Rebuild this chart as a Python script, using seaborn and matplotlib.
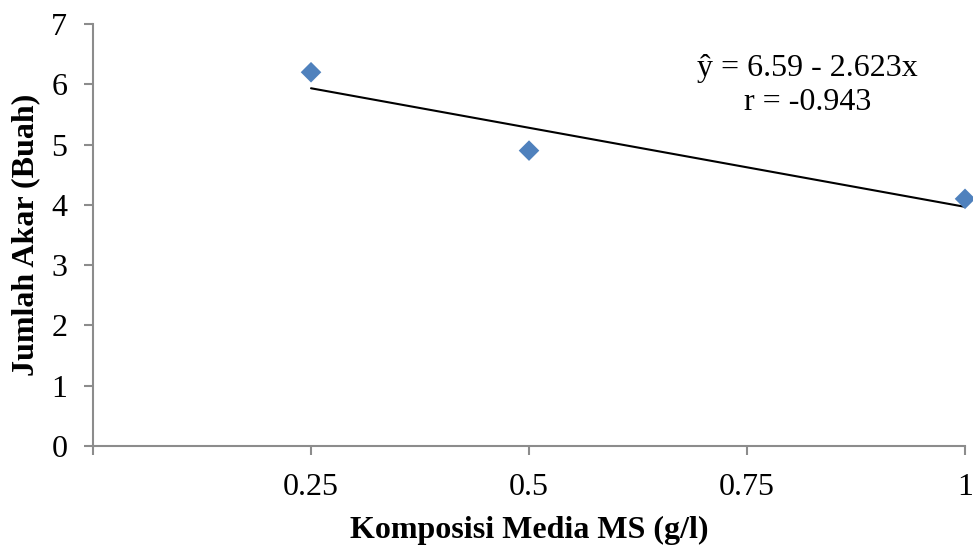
import matplotlib
matplotlib.use("Agg")
import matplotlib.pyplot as plt
import seaborn as sns
import pandas as pd
import numpy as np

# Data
komposisi = [0.25, 0.5, 1.0]
jumlah_akar = [6.2, 4.9, 4.1]
intercept = 6.59
slope = -2.623
r_value = -0.943
x_ticks = [0, 0.25, 0.5, 0.75, 1]
x_tick_labels = ["", "0.25", "0.5", "0.75", "1"]
y_ticks = [0, 1, 2, 3, 4, 5, 6, 7]

sns.set_style("white")
plt.rcParams["font.family"] = ["Liberation Serif", "DejaVu Serif"]
plt.rcParams["text.color"] = "black"
plt.rcParams["axes.labelcolor"] = "black"

df = pd.DataFrame({"x": komposisi, "y": jumlah_akar})
x_line = [min(komposisi), max(komposisi)]
line_df = pd.DataFrame({"x": x_line, "y": [intercept + slope * v for v in x_line]})

fig = plt.figure(figsize=(9.73, 5.46), dpi=100)
ax = fig.add_axes([0.0956, 0.1832, 0.8962, 0.7728])

sns.lineplot(data=line_df, x="x", y="y", ax=ax, color="black", linewidth=1.5, zorder=2)
sns.scatterplot(data=df, x="x", y="y", ax=ax, marker="D", s=110, color="#4F81BD",
                edgecolor="none", zorder=3, clip_on=False)

ax.set_xlim(0, 1)
ax.set_ylim(0, 7)
ax.set_xticks(x_ticks)
ax.set_xticklabels(x_tick_labels)
ax.set_yticks(y_ticks)

for s in ["top", "right"]:
    ax.spines[s].set_visible(False)
for s in ["left", "bottom"]:
    ax.spines[s].set_color("#8c8c8c")
    ax.spines[s].set_linewidth(1.5)

ax.tick_params(axis="both", which="major", labelsize=23, colors="#8c8c8c",
               labelcolor="black", length=6.5, width=1.5, direction="out")
ax.tick_params(axis="x", pad=13)
ax.tick_params(axis="y", pad=12)
ax.xaxis.set_ticks_position("bottom")
ax.yaxis.set_ticks_position("left")

ax.set_xlabel("Komposisi Media MS (g/l)", fontsize=23, fontweight="bold", labelpad=10)
ax.set_ylabel("Jumlah Akar (Buah)", fontsize=23, fontweight="bold", labelpad=8)

ax.text(0.819, 6.27, "ŷ = 6.59 - 2.623x", fontsize=23, ha="center", va="center")
ax.text(0.819, 5.69, f"r = {r_value}", fontsize=23, ha="center", va="center")

fig.savefig("out.png", dpi=100)
